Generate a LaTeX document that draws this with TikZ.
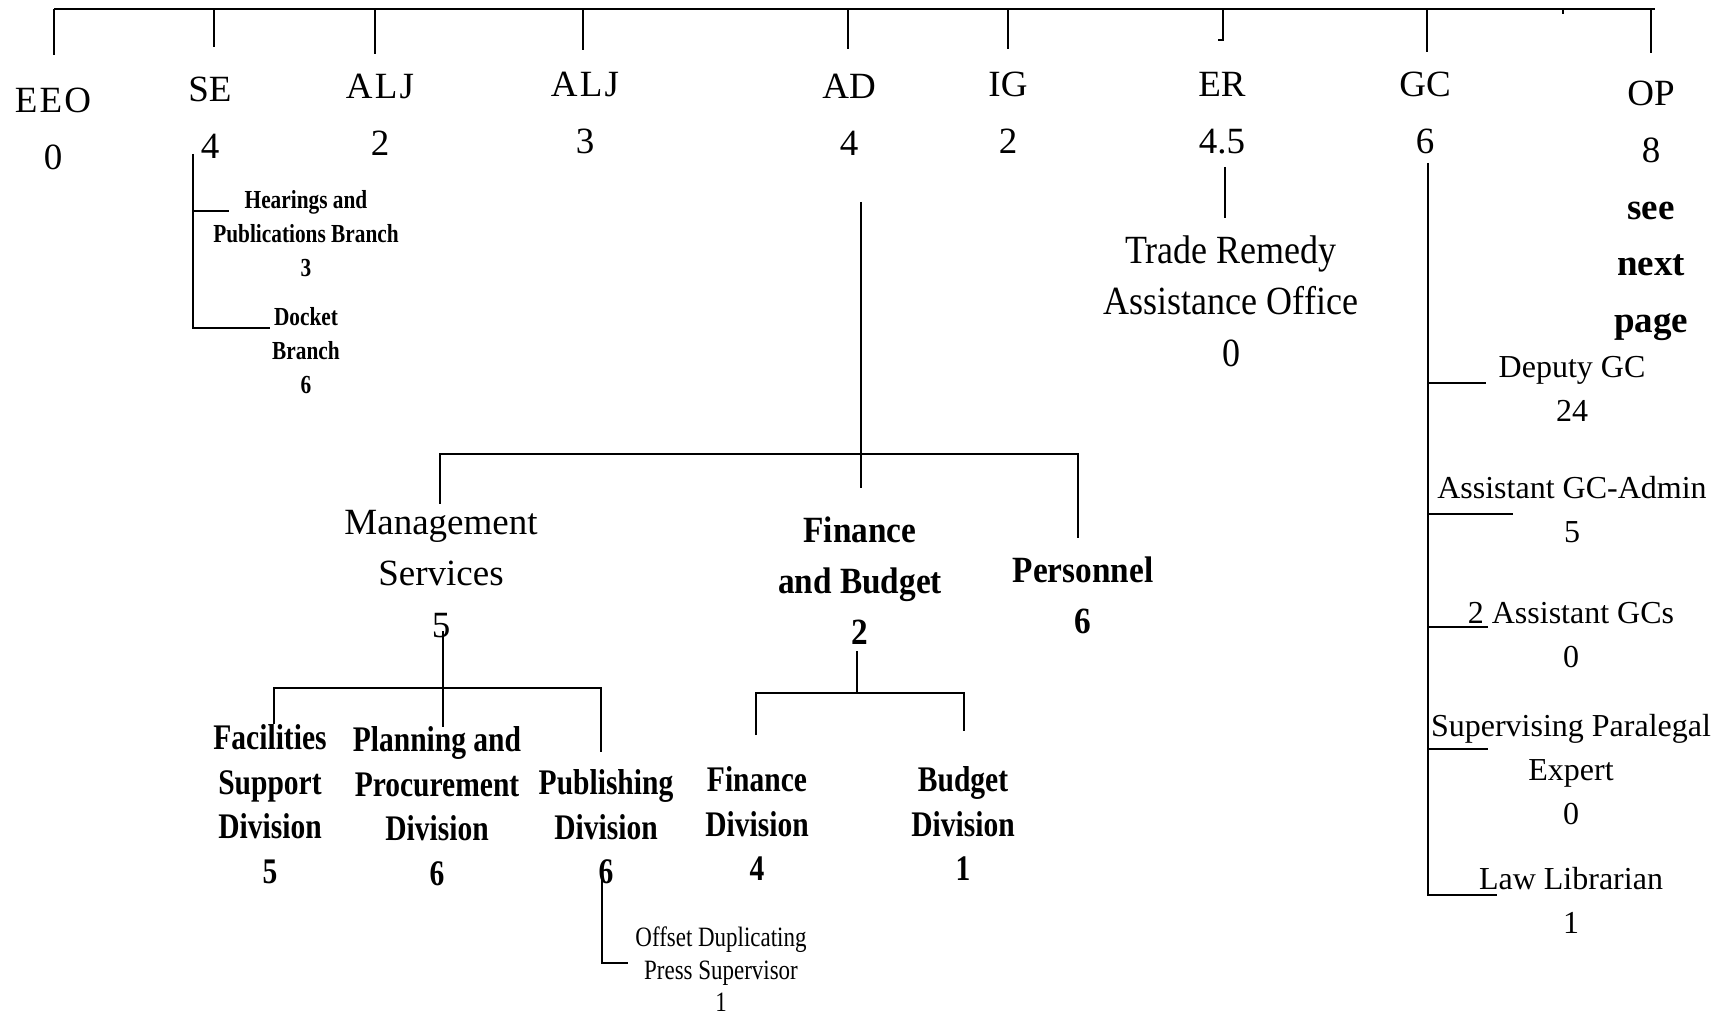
\documentclass[tikz,border=0pt]{standalone}
\usepackage{fontspec}
\setmainfont{Liberation Serif}
\newfontfamily\narrowfont[FakeStretch=0.82]{Liberation Serif}
\newfontfamily\midnarrowfont[FakeStretch=0.9]{Liberation Serif}
\newfontfamily\spacedfont[LetterSpace=6]{Liberation Serif}
\begin{document}
\begin{tikzpicture}[x=0.5pt,y=-0.5pt,
  link/.style={line width=0.85pt,line join=miter},
  lbl/.style={inner sep=0pt,outer sep=0pt,align=center,anchor=north},
  head/.style={lbl,font=\fontsize{18.5}{28.5}\selectfont},
  spacedhead/.style={lbl,font=\spacedfont\fontsize{18.5}{28.5}\selectfont},
  opstack/.style={lbl,font=\fontsize{18.5}{28.4}\selectfont},
  branch/.style={lbl,font=\narrowfont\bfseries\fontsize{13}{17}\selectfont},
  trade/.style={lbl,font=\midnarrowfont\fontsize{20}{25.6}\selectfont},
  mgmt/.style={lbl,font=\fontsize{18.5}{25.75}\selectfont},
  unitb/.style={lbl,font=\midnarrowfont\bfseries\fontsize{18.5}{25.5}\selectfont},
  div/.style={lbl,font=\narrowfont\bfseries\fontsize{18}{22.25}\selectfont},
  offs/.style={lbl,font=\narrowfont\fontsize{14}{16.2}\selectfont},
  gcl/.style={lbl,font=\fontsize{16}{22}\selectfont}]

\fill[white] (0,0) rectangle (1729,1015);
\useasboundingbox (0,0) rectangle (1729,1015);

% ---- top bar and drops to the offices
\coordinate (barL) at (54,9);
\coordinate (barR) at (1655,9);
\draw[link] (barL) -- (barR);

\coordinate (eeo-dn)  at (54,55);
\coordinate (se-dn)   at (214,47);
\coordinate (alj2-dn) at (375,54);
\coordinate (alj3-dn) at (583,50);
\coordinate (ad-dn)   at (848,49);
\coordinate (ig-dn)   at (1008,49);
\coordinate (er-dn)   at (1223,40);
\coordinate (gc-dn)   at (1427,52);
\coordinate (op-dn)   at (1651,53);
\coordinate (tick)    at (1563,14);
\foreach \c in {eeo,se,alj2,alj3,ad,ig,gc,op}
  \draw[link] (\c-dn |- barL) -- (\c-dn);
\draw[link] (er-dn |- barL) -- (er-dn) -- ++(-5,0);
\draw[link] (tick |- barL) -- (tick);

% ---- offices
\node[spacedhead] (eeo)  at (53,88)   {EEO\\0};
\node[head] (se)   at (210,77)  {SE\\4};
\node[spacedhead] (alj2) at (380,74)  {ALJ\\2};
\node[spacedhead] (alj3) at (585,72)  {ALJ\\3};
\node[head] (ad)   at (849,74)  {AD\\4};
\node[head] (ig)   at (1008,72) {IG\\2};
\node[head] (er)   at (1222,72) {ER\\4.5};
\node[head] (gc)   at (1425,72) {GC\\6};
\node[opstack] (op) at (1651,81) {OP\\8\\\textbf{see}\\\textbf{next}\\\textbf{page}};

% ---- SE branches
\node[branch] (hear) at (306,190) {Hearings and\\Publications Branch\\3};
\node[branch] (dock) at (306,307) {Docket\\Branch\\6};
\coordinate (se-stem) at (193,154);
\coordinate (hear-in) at (229,211);
\coordinate (dock-in) at (270,328);
\draw[link] (se-stem) -- (se-stem |- dock-in) -- (dock-in);
\draw[link] (se-stem |- hear-in) -- (hear-in);

% ---- ER office
\node[trade] (tra) at (1231,236) {Trade Remedy\\Assistance Office\\0};
\coordinate (er-a) at (1225,167);
\coordinate (er-b) at (1225,218);
\draw[link] (er-a) -- (er-b);

% ---- AD offices
\node[mgmt]  (ms)   at (441,510)  {Management\\Services\\5};
\node[unitb] (fb)   at (860,517)  {Finance\\and Budget\\2};
\node[unitb] (pers) at (1083,557) {Personnel\\6};
\coordinate (ad-a)   at (861,202);
\coordinate (ad-bar) at (861,454);
\coordinate (ad-b)   at (861,488);
\coordinate (msL)    at (440,504);
\coordinate (persR)  at (1078,538);
\draw[link] (ad-a) -- (ad-b);
\draw[link] (msL) -- (msL |- ad-bar) -- (persR |- ad-bar) -- (persR);

% ---- Management Services divisions
\node[div] (fac) at (270,725) {Facilities\\Support\\Division\\5};
\node[div] (ppd) at (437,727) {Planning and\\Procurement\\Division\\6};
\node[div] (pub) at (606,770) {Publishing\\Division\\6};
\coordinate (ms-a)   at (443,631);
\coordinate (ms-bar) at (443,688);
\coordinate (ms-b)   at (443,727);
\coordinate (facL)   at (274,724);
\coordinate (pubR)   at (601,752);
\draw[link] (ms-a) -- (ms-b);
\draw[link] (facL) -- (facL |- ms-bar) -- (pubR |- ms-bar) -- (pubR);

% ---- Publishing sub-unit
\node[offs] (off) at (721,927) {Offset Duplicating\\Press Supervisor\\1};
\coordinate (pub-a)  at (602,872);
\coordinate (off-in) at (628,963);
\draw[link] (pub-a) -- (pub-a |- off-in) -- (off-in);

% ---- Finance and Budget divisions
\node[div] (find) at (757,767) {Finance\\Division\\4};
\node[div] (bud)  at (963,767) {Budget\\Division\\1};
\coordinate (fb-a)   at (857,651);
\coordinate (fb-bar) at (857,693);
\coordinate (findL)  at (756,735);
\coordinate (budR)   at (964,731);
\draw[link] (fb-a) -- (fb-bar);
\draw[link] (findL) -- (findL |- fb-bar) -- (budR |- fb-bar) -- (budR);

% ---- GC staff
\node[gcl] (dep)  at (1572,356) {Deputy GC\\24};
\node[gcl] (agca) at (1572,476) {Assistant GC-Admin\\5};
\node[gcl] (agcs) at (1571,602) {2 Assistant GCs\\0};
\node[gcl] (spe)  at (1571,714) {Supervising Paralegal\\Expert\\0};
\node[gcl] (law)  at (1571,867) {Law Librarian\\1};
\coordinate (gc-a)    at (1428,163);
\coordinate (dep-in)  at (1486,383);
\coordinate (agca-in) at (1513,514);
\coordinate (agcs-in) at (1488,627);
\coordinate (spe-in)  at (1488,749);
\coordinate (law-in)  at (1497,895);
\draw[link] (gc-a) -- (gc-a |- law-in) -- (law-in);
\foreach \c in {dep,agca,agcs,spe}
  \draw[link] (gc-a |- \c-in) -- (\c-in);

\end{tikzpicture}
\end{document}
